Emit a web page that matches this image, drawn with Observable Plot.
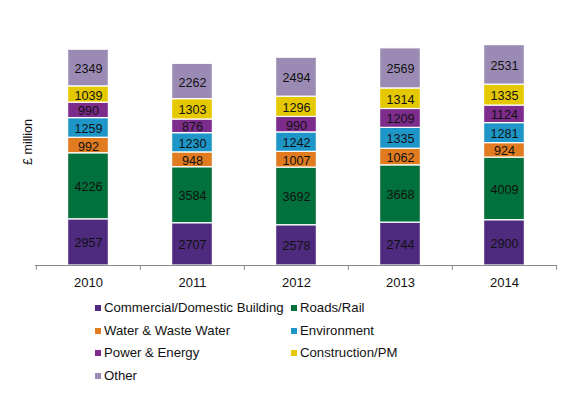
<!DOCTYPE html>
<html>
<head>
<meta charset="utf-8">
<script src="https://cdn.jsdelivr.net/npm/d3@7"></script>
<script src="https://cdn.jsdelivr.net/npm/@observablehq/plot@0.6"></script>
<style>
  html, body { margin: 0; padding: 0; background: #fff; }
  #wrap { position: relative; width: 572px; height: 394px; font-family: "Liberation Sans", Arial, sans-serif; }
  #legend { position: absolute; left: 0; top: 0; width: 572px; height: 394px; pointer-events: none; }
  .li { position: absolute; font-size: 13.2px; color: #111; white-space: nowrap; line-height: 14px; }
  .sw { display: inline-block; width: 6px; height: 6px; margin-right: 3px; vertical-align: 1px; }
  #ylab { position: absolute; left: 28px; top: 142px; width: 0; height: 0; }
  #ylab span { position: absolute; left: 0; top: 0; transform: translate(-50%, -50%) rotate(-90deg); white-space: nowrap; font-size: 12.5px; color: #111; }
</style>
</head>
<body>
<div id="wrap"><div id="chart"></div><div id="ylab"><span>£ million</span></div><div id="legend"></div></div>
<script>
const years = ["2010", "2011", "2012", "2013", "2014"];
const categories = ["Commercial/Domestic Building", "Roads/Rail", "Water & Waste Water", "Environment", "Power & Energy", "Construction/PM", "Other"];
const colors = ["#4e2b7f", "#00703c", "#e07b1f", "#1e96c8", "#7d2c8c", "#e5c800", "#9b8bb4"];
const commercial   = [2957, 2707, 2578, 2744, 2900];
const roadsRail    = [4226, 3584, 3692, 3668, 4009];
const water        = [992, 948, 1007, 1062, 924];
const environment  = [1259, 1230, 1242, 1335, 1281];
const power        = [990, 876, 990, 1209, 1124];
const construction = [1039, 1303, 1296, 1314, 1335];
const other        = [2349, 2262, 2494, 2569, 2531];
const series = [commercial, roadsRail, water, environment, power, construction, other];

const data = [];
years.forEach((yr, i) => {
  categories.forEach((c, j) => data.push({year: yr, cat: c, value: series[j][i]}));
});

const W = 572, H = 296;
const mL = 35, mR = 16;
const step = (W - mL - mR) / years.length;
const inset = (step - 41) / 2;

const chart = Plot.plot({
  width: W, height: H,
  marginLeft: mL, marginRight: mR, marginTop: 15, marginBottom: 31,
  style: {fontFamily: "Liberation Sans, Arial, sans-serif", fontSize: "13px", color: "#111"},
  x: {domain: years, padding: 0, axis: null},
  y: {domain: [0, 16000], axis: null},
  color: {domain: categories, range: colors},
  marks: [
    Plot.barY(data, Plot.stackY({x: "year", y: "value", z: "cat", order: categories, fill: "cat", stroke: "white", strokeWidth: 1.2, insetLeft: inset, insetRight: inset})),
    Plot.text(data, Plot.stackY({x: "year", y: "value", z: "cat", order: categories, text: d => String(d.value), fill: "#111", fontSize: 12.6, dy: 1})),
    Plot.ruleY([0], {stroke: "#888", strokeWidth: 1}),
    Plot.ruleX(years, {x: d => d, dx: -step / 2, y1: 0, y2: -300, stroke: "#888"}),
    Plot.ruleX([years[years.length - 1]], {x: d => d, dx: step / 2, y1: 0, y2: -300, stroke: "#888"}),
    Plot.text(years, {x: d => d, y: 0, text: d => d, dy: 17, fill: "#111", fontSize: 13})
  ]
});
document.getElementById("chart").appendChild(chart);

const pos = [[95, 301], [291, 301], [95, 324], [291, 324], [95, 346], [291, 346], [95, 369]];
const lg = document.getElementById("legend");
categories.forEach((c, j) => {
  const d = document.createElement("div");
  d.className = "li";
  d.style.left = pos[j][0] + "px";
  d.style.top = pos[j][1] + "px";
  const s = document.createElement("span");
  s.className = "sw";
  s.style.background = colors[j];
  d.appendChild(s);
  d.appendChild(document.createTextNode(c));
  lg.appendChild(d);
});
</script>
</body>
</html>
